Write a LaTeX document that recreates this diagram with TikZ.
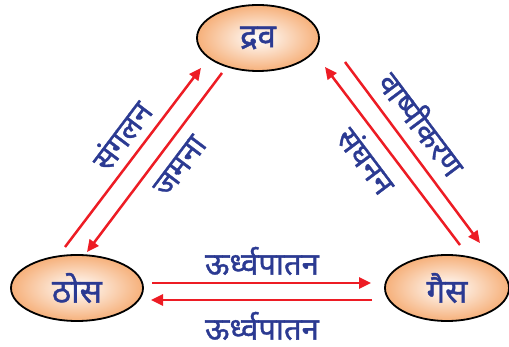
\documentclass[tikz,border=0pt]{standalone}
\usepackage{fontspec}
\newfontfamily\devfont[Script=Devanagari, FakeBold=1.2]{Noto Sans}
\usetikzlibrary{shapes.geometric,arrows.meta}
\definecolor{txtblue}{HTML}{2B3A92}
\definecolor{arrred}{HTML}{ED1C24}
\definecolor{peach}{HTML}{F6B07A}
\tikzset{
  state/.style={ellipse, draw=black, line width=1.8pt, inner color=white, outer color=peach,
    minimum width=122pt, minimum height=66pt, inner sep=0pt,
    font=\devfont\fontsize{33}{36}\selectfont, text=txtblue},
  lbl/.style={font=\devfont\fontsize{31}{34}\selectfont, text=txtblue, inner sep=0pt},
  conv/.style={draw=arrred, line width=2.5pt, -{Triangle[length=12pt,width=11pt]}}
}
\begin{document}
\begin{tikzpicture}[x=1pt,y=-1pt]
\useasboundingbox (0,0) rectangle (509,347);
\node[state] (drav) at (258,38) {द्रव};
\node[state, minimum width=132pt] (thos) at (77,288) {ठोस};
\node[state, minimum width=124pt] (gas) at (447,288) {गैस};
% endpoints
\coordinate (a1) at (65,247);  \coordinate (a2) at (201,68);
\coordinate (b1) at (222,73);  \coordinate (b2) at (87,252);
\coordinate (c1) at (460,245); \coordinate (c2) at (325,67);
\coordinate (d1) at (345,62);  \coordinate (d2) at (480,243);
\coordinate (e1) at (152,283); \coordinate (e2) at (371,283);
\coordinate (f1) at (372,300); \coordinate (f2) at (151,300);
\draw[conv] (a1) -- (a2);
\draw[conv] (b1) -- (b2);
\draw[conv] (c1) -- (c2);
\draw[conv] (d1) -- (d2);
\draw[conv] (e1) -- (e2);
\draw[conv] (f1) -- (f2);
\node[lbl, rotate=53] (l1) at (121,135) {संगलन};
\node[lbl, rotate=53] (l2) at (180,166) {जमना};
\node[lbl, rotate=-53] (l3) at (423,123) {वाष्पीकरण};
\node[lbl, rotate=-53] (l4) at (367,160) {संघनन};
\node[lbl] (l5) at (262,261) {ऊर्ध्वपातन};
\node[lbl] (l6) at (262,326) {ऊर्ध्वपातन};
\end{tikzpicture}
\end{document}
